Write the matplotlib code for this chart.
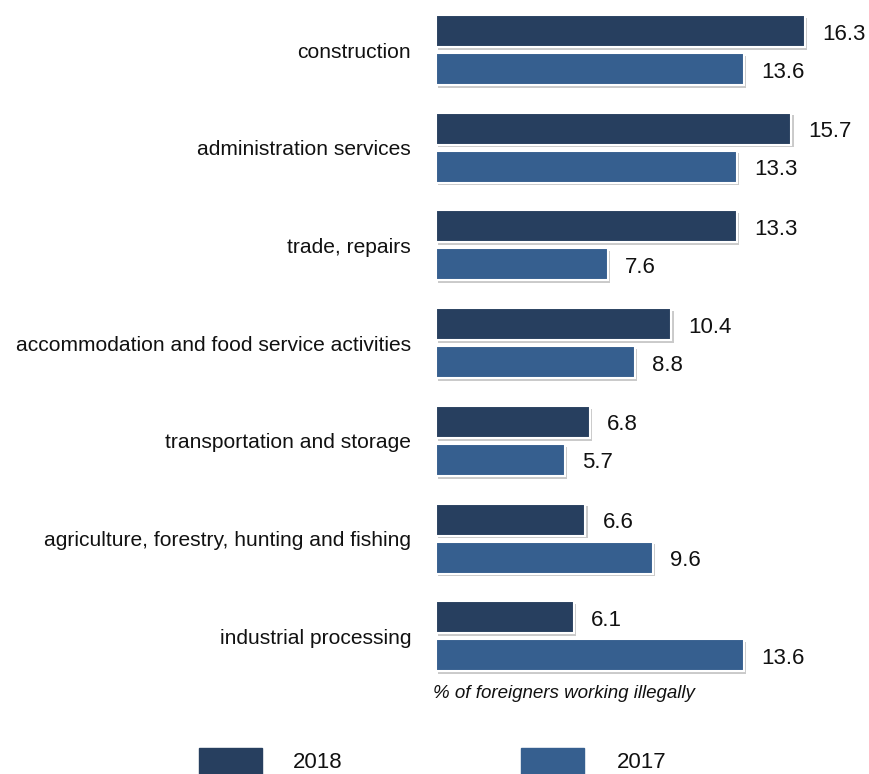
import matplotlib
matplotlib.use("Agg")
import matplotlib.pyplot as plt
import matplotlib.patheffects as pe
from matplotlib.patches import Rectangle

plt.rcParams['font.family'] = ['Liberation Sans', 'DejaVu Sans']

categories = [
    "construction",
    "administration services",
    "trade, repairs",
    "accommodation and food service activities",
    "transportation and storage",
    "agriculture, forestry, hunting and fishing",
    "industrial processing",
]
values_2018 = [16.3, 15.7, 13.3, 10.4, 6.8, 6.6, 6.1]
values_2017 = [13.6, 13.3, 7.6, 8.8, 5.7, 9.6, 13.6]
series_labels = ["2018", "2017"]

color_2018 = "#273f5f"
color_2017 = "#365f8f"

W, H = 869, 774
fig = plt.figure(figsize=(W / 100, H / 100), dpi=100)

ax_left = 436 / W
ax = fig.add_axes([ax_left, 0, 1 - ax_left, 1])
px_per_unit = 22.64
ax.set_xlim(0, (W - 436) / px_per_unit)
group_px = 97.7
ax.set_ylim((H - 50) / group_px, -50 / group_px)
ax.axis("off")

bar_h = 32 / group_px
offset = 19 / group_px
shadow = [pe.SimplePatchShadow(offset=(1.5, -2), shadow_rgbFace="#a0a0a0", alpha=0.55), pe.Normal()]

ys = list(range(len(categories)))
for vals, sign, col in ((values_2018, -1, color_2018), (values_2017, 1, color_2017)):
    bars = ax.barh([y + sign * offset for y in ys], vals, height=bar_h, color=col,
                   edgecolor="white", linewidth=1.5, left=0)
    for b, v in zip(bars, vals):
        b.set_path_effects(shadow)
        ax.text(v + 17 / px_per_unit, b.get_y() + b.get_height() / 2 + 3 / group_px,
                f"{v:.1f}", ha="left", va="center", fontsize=16, color="#111111")

for y, cat in zip(ys, categories):
    fig.text(411 / W, 1 - (52 + group_px * y) / H, cat, ha="right", va="center",
             fontsize=15.1, color="#111111")

fig.text(433 / W, 1 - 694 / H, "% of foreigners working illegally", ha="left",
         va="center", fontsize=13.5, style="italic", color="#111111")

# legend along the bottom edge
for x0, col, lab, tx in ((199, color_2018, series_labels[0], 293),
                         (521, color_2017, series_labels[1], 617)):
    fig.patches.append(Rectangle((x0 / W, 0), 63 / W, (774 - 748) / H,
                                 transform=fig.transFigure, color=col))
    fig.text(tx / W, 1 - 762 / H, lab, ha="left", va="center", fontsize=16,
             color="#111111")

fig.savefig("out.png", dpi=100)
